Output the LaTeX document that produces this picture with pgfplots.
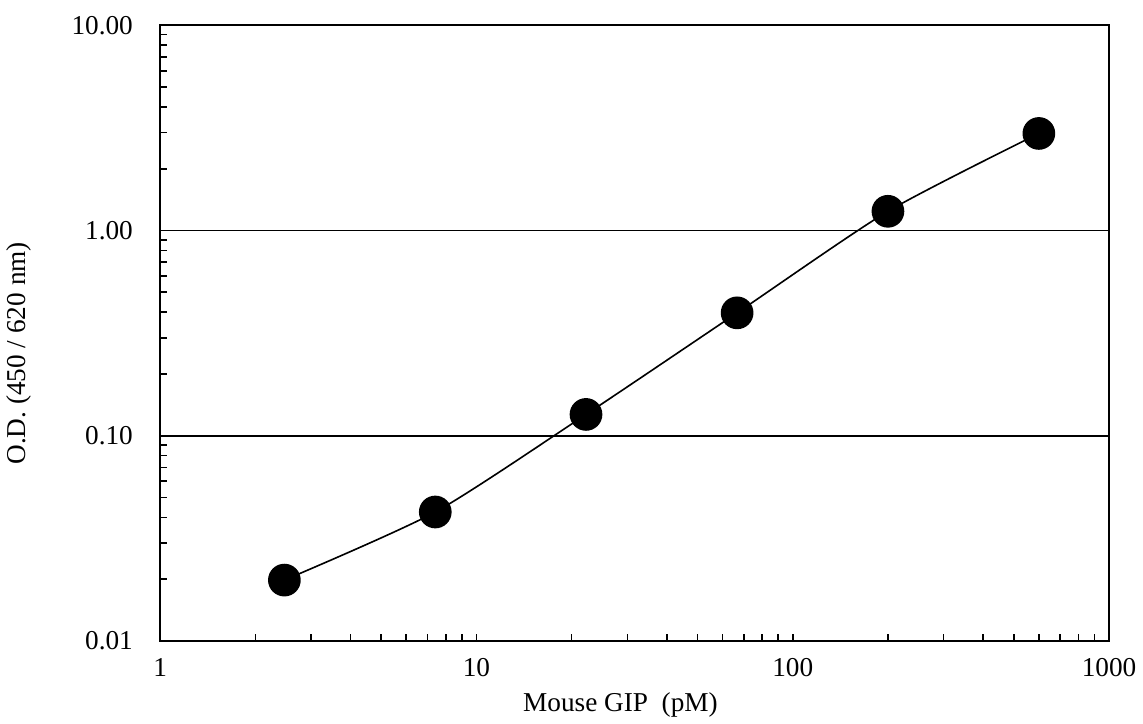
\documentclass[border=0pt]{standalone}
\usepackage{fontspec}
\setmainfont{Liberation Serif}
\usepackage{pgfplots}
\pgfplotsset{compat=1.18}

\begin{document}
\begin{tikzpicture}
\begin{axis}[
    scale only axis,
    width=470pt, height=305pt,
    xmode=log, ymode=log,
    xmin=1, xmax=1000, ymin=0.01, ymax=10,
    axis line style={line width=1pt},
    xtick={1,10,100,1000},
    xticklabels={1,10,100,1000},
    ytick={0.01,0.1,1,10},
    yticklabels={0.01,0.10,1.00,10.00},
    tick align=inside,
    xtick pos=bottom, ytick pos=left,
    major tick length=3.5pt, minor tick length=3.5pt,
    every tick/.style={black, line width=0.8pt},
    ymajorgrids,
    grid style={black, line width=0.9pt},
    ticklabel style={font=\fontsize{13.5}{16}\selectfont},
    xticklabel style={yshift=-5pt},
    yticklabel style={xshift=-10pt},
    /pgf/number format/assume math mode=true,
    xlabel={Mouse GIP\ \ (pM)},
    ylabel={O.D. (450 / 620 nm)},
    label style={font=\fontsize{13.5}{16}\selectfont},
    xlabel style={yshift=-1pt, xshift=-7pt},
    ylabel style={yshift=13pt, xshift=-10pt},
]
\addplot[black, line width=0.8pt, smooth, tension=0.4,
    mark=*, mark size=7.7pt, mark options={fill=black}]
    coordinates {
    (2.47,0.0198)
    (7.41,0.0425)
    (22.2,0.127)
    (66.7,0.397)
    (200,1.24)
    (600,2.97)
    };
\end{axis}
% extra room above the axis, as in the reference
\path (current axis.north) ++(0pt,12.5pt);
\end{tikzpicture}
\end{document}
